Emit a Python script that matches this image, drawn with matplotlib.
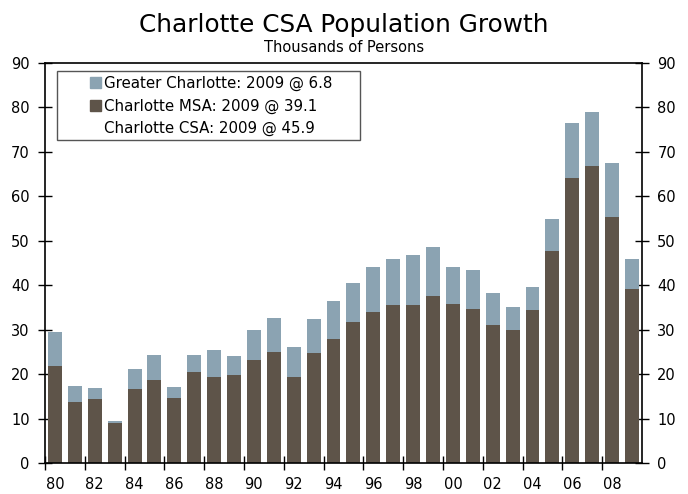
import numpy as np
import matplotlib.pyplot as plt
from matplotlib.patches import Patch, Rectangle

years = np.arange(1980, 2010)
msa = [21.9, 13.8, 14.5, 9.0, 16.7, 18.7, 14.7, 20.5, 19.4, 19.9,
       23.2, 25.0, 19.4, 24.8, 27.8, 31.8, 34.0, 35.6, 35.6, 37.6,
       35.8, 34.7, 31.1, 30.0, 34.5, 47.6, 64.2, 66.9, 55.4, 39.1]
csa = [29.5, 17.4, 16.9, 9.5, 21.2, 24.4, 17.2, 24.4, 25.5, 24.1,
       30.0, 32.7, 26.2, 32.5, 36.5, 40.4, 44.0, 46.0, 46.9, 48.5,
       44.0, 43.5, 38.3, 35.0, 39.7, 54.8, 76.4, 78.9, 67.6, 45.9]
greater = [round(c - m, 1) for c, m in zip(csa, msa)]
label_years = years[::2]
tick_labels = [str(y)[2:] for y in label_years]

c_greater = "#8ba3b2"
c_msa = "#5e5449"

fig = plt.figure(figsize=(6.88, 4.94), dpi=100)
ax = fig.add_axes([0.0654, 0.0628, 0.8677, 0.8097])

ax.bar(years, msa, width=0.7, color=c_msa, zorder=2)
ax.bar(years, greater, width=0.7, bottom=msa, color=c_greater, zorder=2)

ax.set_xlim(1979.5, 2009.5)
ax.set_ylim(0, 90)
ax.set_yticks(np.arange(0, 91, 10))
ax.tick_params(axis="y", direction="inout", length=10, width=1,
               labelsize=10.5, right=True, labelright=True, pad=6)

# boundary ticks every two years, labels centred under even-year bars
ax.set_xticks(label_years - 0.5)
ax.set_xticklabels([])
ax.set_xticks(label_years, minor=True)
ax.set_xticklabels(tick_labels, minor=True)
ax.tick_params(axis="x", which="major", direction="inout", length=10, width=1)
ax.tick_params(axis="x", which="minor", length=0, labelsize=10.5, pad=10)

for s in ax.spines.values():
    s.set_linewidth(1.2)
    s.set_color("black")

fig.text(0.5, 0.935, "Charlotte CSA Population Growth", ha="center", va="baseline",
         fontsize=17.8)
fig.text(0.5, 0.8947, "Thousands of Persons", ha="center", va="baseline", fontsize=10.5)

# legend box drawn separately so the padding matches
ax.add_patch(Rectangle((0.020, 0.8075), 0.508, 0.1725, transform=ax.transAxes,
                       facecolor="white", edgecolor="#555555", linewidth=1.0,
                       zorder=3))
handles = [Patch(color=c_greater), Patch(color=c_msa), Patch(color="none")]
labels = ["Greater Charlotte: 2009 @ 6.8", "Charlotte MSA: 2009 @ 39.1",
          "Charlotte CSA: 2009 @ 45.9"]
leg = ax.legend(handles, labels, loc="upper left", bbox_to_anchor=(0.0754, 0.967),
                fontsize=10.8, frameon=False, handlelength=0.75,
                handleheight=0.75, handletextpad=0.15, labelspacing=0.48,
                borderpad=0, borderaxespad=0)
leg.set_zorder(4)

plt.savefig("out.png", dpi=100)
